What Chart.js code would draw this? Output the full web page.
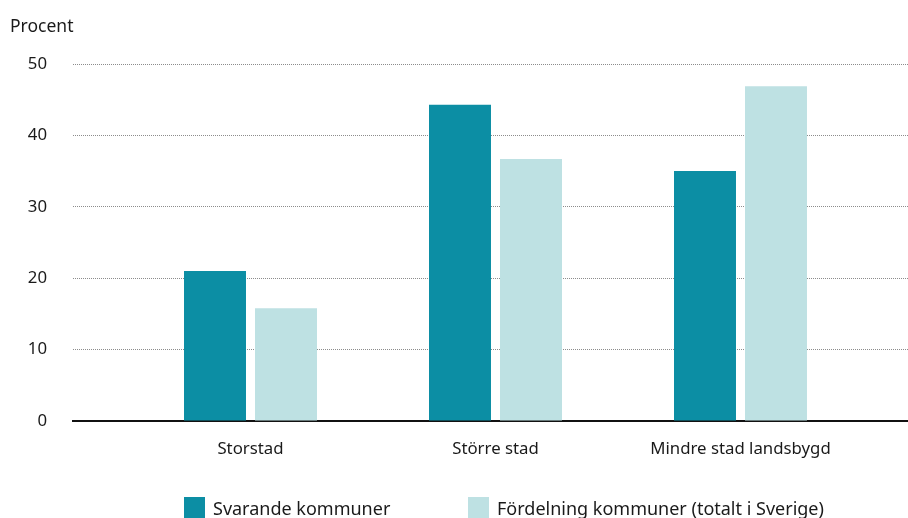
<!DOCTYPE html>
<html>
<head>
<meta charset="utf-8">
<script src="https://cdn.jsdelivr.net/npm/chart.js@4"></script>
<style>
  html, body { margin: 0; padding: 0; background: #fff; }
  #wrap { position: relative; width: 908px; height: 518px; }
  #legend { position: absolute; left: 0; top: 497px; width: 908px; font-family: "Noto Sans", sans-serif; font-size: 18px; color: #1a1a1a; }
  .item { position: absolute; top: 0; display: flex; align-items: center; height: 21px; }
  .box { width: 21px; height: 21px; margin-right: 8px; }
</style>
</head>
<body>
<div id="wrap">
  <canvas id="c" width="908" height="518"></canvas>
  <div id="legend"></div>
</div>
<script>
const categories = ["Storstad", "Större stad", "Mindre stad landsbygd"];
const seriesNames = ["Svarande kommuner", "Fördelning kommuner (totalt i Sverige)"];
const svarande = [21.0, 44.3, 35.0];
const fordelning = [15.8, 36.7, 46.9];
const yTicks = [0, 10, 20, 30, 40, 50];
const colors = ["#0c8ea4", "#bee1e3"];

const catPos = categories.map((c, i) => i + 1);
const FONT = '"Noto Sans", sans-serif';

const chart = new Chart(document.getElementById('c'), {
  type: 'bar',
  data: {
    datasets: [
      { label: seriesNames[0], data: catPos.map((x, i) => ({ x, y: svarande[i] })), backgroundColor: colors[0] },
      { label: seriesNames[1], data: catPos.map((x, i) => ({ x, y: fordelning[i] })), backgroundColor: colors[1] }
    ]
  },
  options: {
    responsive: false,
    animation: false,
    categoryPercentage: 0.5796,
    barPercentage: 0.873,
    layout: { padding: { left: 10, right: 0, top: 0, bottom: 0 } },
    plugins: {
      legend: { display: false },
      tooltip: { enabled: false },
      title: {
        display: true, text: 'Procent', align: 'start', color: '#1a1a1a',
        font: { family: FONT, size: 17.5, weight: 'normal', lineHeight: 1.2 },
        padding: { top: 17, bottom: 26 }
      }
    },
    scales: {
      x: {
        type: 'linear',
        offset: false,
        min: 0.2755, max: 3.6837,
        afterBuildTicks: s => { s.ticks = catPos.map(v => ({ value: v })); },
        afterFit: s => { s.height = 97; },
        grid: { display: false, drawTicks: false },
        border: { display: true, color: '#111', width: 2 },
        ticks: {
          padding: 18.5, color: '#1a1a1a', font: { family: FONT, size: 16.8 },
          maxRotation: 0, autoSkip: false,
          callback: v => categories[v - 1] || ''
        }
      },
      y: {
        min: 0, max: 50,
        afterBuildTicks: s => { s.ticks = yTicks.map(v => ({ value: v })); },
        afterFit: s => { s.width = 63; },
        grid: { color: '#8c8c8c', lineWidth: 1, drawTicks: false },
        border: { display: false, dash: [1, 1] },
        ticks: { padding: 26, color: '#1a1a1a', font: { family: FONT, size: 16.8 } }
      }
    }
  }
});

const legend = document.getElementById('legend');
const legendX = [184, 468];
seriesNames.forEach((n, i) => {
  const d = document.createElement('div');
  d.className = 'item';
  d.style.left = legendX[i] + 'px';
  d.innerHTML = '<span class="box" style="background:' + colors[i] + '"></span><span>' + n + '</span>';
  legend.appendChild(d);
});
</script>
</body>
</html>
